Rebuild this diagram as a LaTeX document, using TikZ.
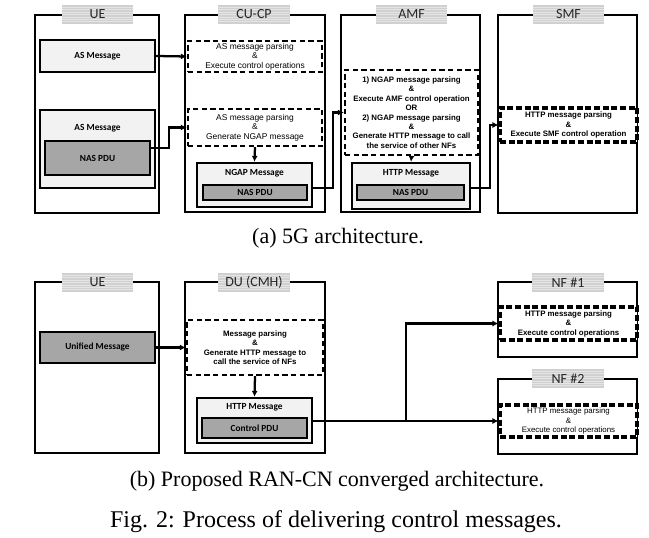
\documentclass[tikz,border=0pt]{standalone}
\usepackage{fontspec}
\setmainfont{Liberation Serif}
\newfontfamily\carl{Carlito}
\newfontfamily\ari{Liberation Sans}
\usetikzlibrary{arrows.meta,fit,calc}
\definecolor{titlegray}{HTML}{D0D0D0}
\definecolor{lightg}{HTML}{F2F2F2}
\definecolor{darkg}{HTML}{A6A6A6}
\begin{document}
\begin{tikzpicture}[x=0.75pt,y=-0.75pt,
  frame/.style={draw, line width=1.7pt, inner sep=0pt},
  titlebox/.style={fill=titlegray, minimum width=53.5pt, minimum height=14.25pt, inner sep=0pt, font=\carl\fontsize{10.5}{11}\selectfont, text=black!85,
    path picture={\foreach \i in {1,...,7} \draw[line width=0.5pt, white, opacity=0.45] ([yshift=-\i*1.8pt]path picture bounding box.north west) -- ([yshift=-\i*1.8pt]path picture bounding box.north east);}},
  msg/.style={draw, line width=1.7pt, fill=lightg, inner sep=0pt},
  pdu/.style={draw, line width=1.7pt, fill=darkg, inner sep=0pt},
  msglabel/.style={inner sep=0pt, font=\carl\bfseries\fontsize{7}{8}\selectfont},
  proc/.style={draw, line width=1.7pt, dash pattern=on 4pt off 2.5pt, fill=white, inner sep=0pt},
  procthick/.style={proc, line width=2.3pt, dash pattern=on 4.5pt off 2pt},
  ptext/.style={inner sep=0pt, align=center, font=\ari\fontsize{6.3}{7.2}\selectfont},
  ptextb/.style={inner sep=0pt, align=center, font=\ari\bfseries\fontsize{5.9}{7.1}\selectfont},
  ptexts/.style={inner sep=0pt, align=center, font=\ari\fontsize{5.9}{7.1}\selectfont},
  conn/.style={line width=1.7pt, -{Latex[length=4.5pt,width=4.5pt]}},
  capsub/.style={inner sep=0pt, font=\fontsize{16.5}{18}\selectfont},
  capfig/.style={inner sep=0pt, font=\fontsize{18}{20}\selectfont}
  ]
\useasboundingbox (0,0) rectangle (649,538);

% ---------------- (a) ----------------
\node[frame, fit={(35,15)(159,213)}] (UE) {};
\node[frame, fit={(185,15)(325,212)}] (CUCP) {};
\node[frame, fit={(341,15)(480,212)}] (AMF) {};
\node[frame, fit={(498,15)(637,213)}] (SMF) {};
\node[titlebox] (tUE) at (97.5,14.5) {UE};
\node[titlebox] (tCUCP) at (254,14.5) {CU-CP};
\node[titlebox] (tAMF) at (411.5,14.5) {AMF};
\node[titlebox] (tSMF) at (568.5,14.5) {SMF};

\node[msg, fit={(40,40)(155,72)}] (AS1) {};
\node[msglabel] (AS1t) at (AS1.center) {AS Message};
\node[msg, fit={(40,110)(155,188)}] (AS2) {};
\node[msglabel] (AS2t) at (97.5,128) {AS Message};
\node[pdu, fit={(45,141)(150,175)}] (NAS1) {};
\node[msglabel] (NAS1t) at (NAS1.center) {NAS PDU};

\node[proc, fit={(188,41)(322,72)}] (D1) {};
\node[ptext] (D1t) at (D1.center) {AS message parsing\\\&\\Execute control operations};
\node[proc, fit={(188,109)(322,146)}] (D2) {};
\node[ptext] (D2t) at (D2.center) {AS message parsing\\\&\\Generate NGAP message};
\node[msg, fit={(197,163)(312,207)}] (NGAP) {};
\node[msglabel] (NGAPt) at (254.5,173) {NGAP Message};
\node[pdu, fit={(203,185)(307,200)}] (NAS2) {};
\node[msglabel] (NAS2t) at (NAS2.center) {NAS PDU};

\node[proc, fit={(345,70)(478,155)}] (D3) {};
\node[ptextb] (D3t) at (D3.center) {1) NGAP message parsing\\\&\\Execute AMF control operation\\OR\\2) NGAP message parsing\\\&\\Generate HTTP message to call\\the service of other NFs};
\node[msg, fit={(352,163)(470,209)}] (HTTP1) {};
\node[msglabel] (HTTP1t) at (411,173) {HTTP Message};
\node[pdu, fit={(357,185)(464,200)}] (NAS3) {};
\node[msglabel] (NAS3t) at (NAS3.center) {NAS PDU};

\node[procthick, fit={(500,108)(637,142)}] (D4) {};
\node[ptextb] (D4t) at (D4.center) {HTTP message parsing\\\&\\Execute SMF control operation};

\draw[conn] (AS1.east) -- (D1.west);
\draw[conn] ([yshift=7.5pt]NAS1.east) -- ++(18,0) |- (D2.west);
\draw[conn] (D2.south) -- (NGAP.north);
\draw[conn] ([yshift=-2pt]NGAP.east) -- ++(20,0) |- (D3.west);
\draw[conn] (D3.south) -- (HTTP1.north);
\draw[conn] ([yshift=-1.5pt]HTTP1.east) -- ++(19,0) |- (D4.west);

\node[capsub] (capa) at (338,238) {(a) 5G architecture.};

% ---------------- (b) ----------------
\node[frame, fit={(35,282)(159,453)}] (UE2) {};
\node[frame, fit={(185,282)(325,453)}] (DU) {};
\node[frame, fit={(498,282)(637,357)}] (NF1) {};
\node[frame, fit={(498,379)(637,454)}] (NF2) {};
\node[titlebox] (tUE2) at (97.5,282.5) {UE};
\node[titlebox] (tDU) at (254,282.5) {DU (CMH)};
\node[titlebox] (tNF1) at (568,282.5) {NF \#1};
\node[titlebox] (tNF2) at (568,378.5) {NF \#2};

\node[pdu, fit={(40,332)(155,363)}] (UM) {};
\node[msglabel] (UMt) at (UM.center) {Unified Message};
\node[proc, fit={(187,320)(323,375)}] (D5) {};
\node[ptextb] (D5t) at (D5.center) {Message parsing\\\&\\Generate HTTP message to\\call the service of NFs};
\node[msg, fit={(197,398)(312,443)}] (HTTP2) {};
\node[msglabel] (HTTP2t) at (254.5,407) {HTTP Message};
\node[pdu, fit={(202,418)(307,438)}] (CPDU) {};
\node[msglabel] (CPDUt) at (CPDU.center) {Control PDU};

\node[procthick, fit={(500,307)(637,340)}] (D6) {};
\node[ptextb] (D6t) at (D6.center) {HTTP message parsing\\\&\\Execute control operations};
\node[procthick, fit={(500,405)(637,437)}] (D7) {};
\node[ptexts] (D7t) at (D7.center) {HTTP message parsing\\\&\\Execute control operations};

\draw[conn] (UM.east) -- (D5.west);
\draw[conn] (D5.south) -- (HTTP2.north);
\draw[conn] (HTTP2.east |- D7.west) -- (D7.west);
\coordinate (J) at (406,421);
\draw[conn] (J) |- (D6.west);

\node[capsub] (capb) at (337,481) {(b) Proposed RAN-CN converged architecture.};
\node[capfig] (capf) at (336,522) {Fig. 2: Process of delivering control messages.};
\end{tikzpicture}
\end{document}
